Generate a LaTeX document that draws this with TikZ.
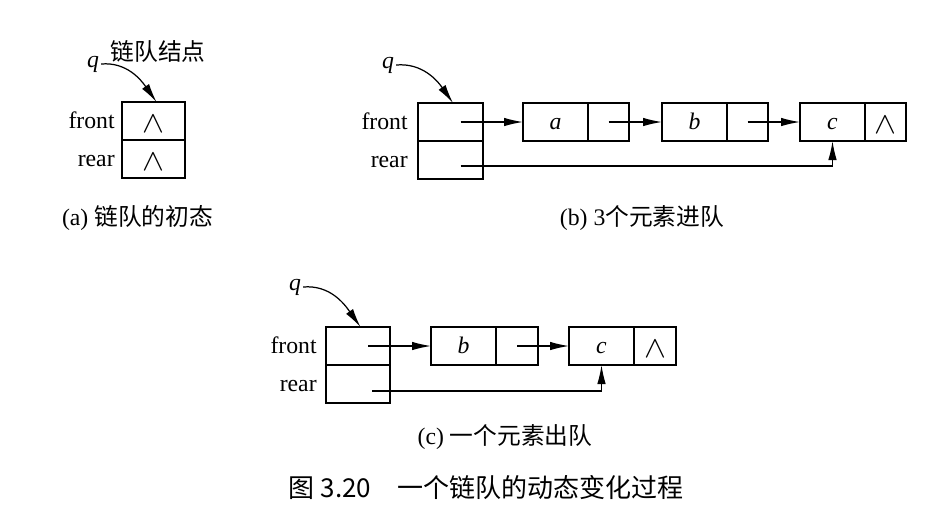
\documentclass[tikz,border=0pt]{standalone}
\usepackage{fontspec}
\setmainfont{Liberation Serif}
\newfontfamily\cjk{Noto Sans CJK SC}
\usepackage{amsmath}
\usepackage{tikz}
\usetikzlibrary{arrows.meta,positioning}

\newcommand{\nil}{\raisebox{-2.3pt}{\scalebox{1.3}[1.2]{$\wedge$}}}

\tikzset{
  field/.style={draw, line width=0.8pt, minimum height=0.76cm, inner sep=0pt, outer sep=0pt,
    text height=2ex, text depth=0.25ex},
  ptr/.style={-{Latex[length=0.38cm,width=0.17cm]}, line width=0.7pt},
  lbl/.style={inner sep=0pt, text height=2ex, text depth=0.25ex},
}

\begin{document}
\begin{tikzpicture}[every node/.style={font=\fontsize{13.5}{16}\selectfont}]
\useasboundingbox (0,0) rectangle (18.88,-10.44);

\coordinate(O1) at (0,0);

% (a) empty queue
\node[below right=2.04cm and 2.44cm of O1, field, minimum width=1.26cm](ahf) {\nil};
\node[below=0cm of ahf, field, minimum width=1.26cm](ahr) {\nil};
\node[left=0.14cm of ahf, lbl](afl) {front};
\node[left=0.14cm of ahr, lbl](arl) {rear};
\node[inner sep=1pt](aq) at (1.86,-1.28) {\textit{q}};
\node(anode) at (3.16,-1.02) {\cjk 链队结点};
\node(acap) at (2.75,-4.36) {(a) {\cjk 链队的初态}};

\draw[ptr] (aq.east) to[out=5,in=125] ([xshift=0.06cm]ahf.north);

% (b) three elements enqueued
\node[below right=2.06cm and 8.36cm of O1, field, minimum width=1.3cm](bhf) {};
\node[below=0cm of bhf, field, minimum width=1.3cm](bhr) {};
\node[left=0.2cm of bhf, lbl](bfl) {front};
\node[left=0.2cm of bhr, lbl](brl) {rear};
\node[inner sep=1pt](bq) at (7.76,-1.30) {\textit{q}};

\node[below right=2.06cm and 10.46cm of O1, field, minimum width=1.3cm](bad) {\textit{a}};
\node[right=0cm of bad, field, minimum width=0.82cm](bap) {};
\node[below right=2.06cm and 13.24cm of O1, field, minimum width=1.3cm](bbd) {\textit{b}};
\node[right=0cm of bbd, field, minimum width=0.82cm](bbp) {};
\node[below right=2.06cm and 16.0cm of O1, field, minimum width=1.3cm](bcd) {\textit{c}};
\node[right=0cm of bcd, field, minimum width=0.82cm](bcp) {\nil};
\node(bcap) at (12.84,-4.36) {(b) 3{\cjk 个元素进队}};

\draw[ptr] (bq.east) to[out=5,in=125] ([xshift=0.05cm]bhf.north);
\draw[ptr] ([xshift=0.2cm]bhf.center) -- (bad);
\draw[ptr] (bap.center) -- (bbd);
\draw[ptr] (bbp.center) -- (bcd);
\draw[ptr] ([xshift=0.2cm,yshift=-0.12cm]bhr.center) -| (bcd.south);

% (c) one element dequeued
\node[below right=6.54cm and 6.52cm of O1, field, minimum width=1.28cm](chf) {};
\node[below=0cm of chf, field, minimum width=1.28cm](chr) {};
\node[left=0.18cm of chf, lbl](cfl) {front};
\node[left=0.18cm of chr, lbl](crl) {rear};
\node[inner sep=1pt](cq) at (5.9,-5.74) {\textit{q}};

\node[below right=6.54cm and 8.62cm of O1, field, minimum width=1.3cm](cbd) {\textit{b}};
\node[right=0cm of cbd, field, minimum width=0.84cm](cbp) {};
\node[below right=6.54cm and 11.38cm of O1, field, minimum width=1.3cm](ccd) {\textit{c}};
\node[right=0cm of ccd, field, minimum width=0.84cm](ccp) {\nil};
\node(ccap) at (10.1,-8.74) {(c) {\cjk 一个元素出队}};

\draw[ptr] (cq.east) to[out=5,in=125] ([xshift=0.05cm]chf.north);
\draw[ptr] ([xshift=0.2cm]chf.center) -- (cbd);
\draw[ptr] (cbp.center) -- (ccd);
\draw[ptr] ([xshift=0.28cm,yshift=-0.14cm]chr.center) -| (ccd.south);

\node[font=\fontsize{14.8}{17}\selectfont](title) at (9.72,-9.76) {\cjk 图 3.20\quad 一个链队的动态变化过程};
\end{tikzpicture}
\end{document}
